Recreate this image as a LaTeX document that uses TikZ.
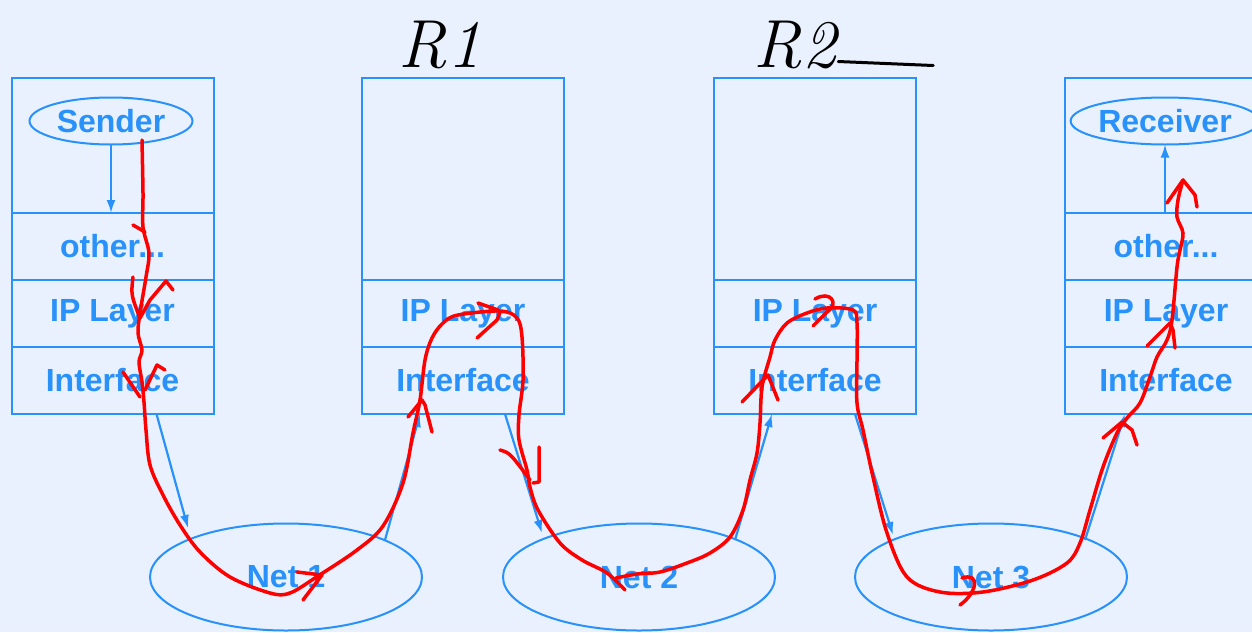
\documentclass[tikz,border=0pt]{standalone}
\usepackage{fontspec}
\setsansfont{Liberation Sans}
\usepackage{tikz}
\usetikzlibrary{shapes,shapes.geometric,calc,arrows,arrows.meta,positioning}
\definecolor{netblue}{RGB}{40,145,250}
\definecolor{bgblue}{RGB}{232,241,253}
\definecolor{penred}{RGB}{255,0,0}

\begin{document}
\begin{tikzpicture}
[x=1pt,y=-1pt,
 every node/.style={draw=netblue,line width=2pt,text=netblue,inner sep=0pt,outer sep=0pt,
	font=\sffamily\bfseries\fontsize{32}{36}\selectfont},
 layer/.style={rectangle,minimum width=202pt,minimum height=67pt},
 app/.style={ellipse,minimum width=163pt,minimum height=47pt},
 net/.style={ellipse,minimum width=272pt,minimum height=107pt},
 hand/.style={draw=none,text=black,font=\fontsize{68}{72}\selectfont\itshape},
 wire/.style={draw=netblue,line width=2.2pt,-{Latex[length=13pt,width=9pt]}},
 pen/.style={draw=penred,line width=3.5pt,line cap=round,line join=round}]
\useasboundingbox (0,0) rectangle (1252,632);
\fill[bgblue] (0,0) rectangle (1252,632);

% sender host
\node[layer,minimum height=135pt] (h1top) at (112.5,145.5) {};
\node[layer,below=0pt of h1top] (h1oth) {other...};
\node[layer,below=0pt of h1oth] (h1ip) {IP Layer};
\node[layer,below=0pt of h1ip] (h1if) {Interface};
\node[app] (send) at (111,121) {Sender};

% routers
\foreach \k/\cx in {1/463,2/815}
{
	\node[layer,minimum height=202pt] (r\k-top) at (\cx,179) {};
	\node[layer,below=0pt of r\k-top] (r\k-ip) {IP Layer};
	\node[layer,below=0pt of r\k-ip] (r\k-if) {Interface};
}

% receiver host
\node[layer,minimum height=135pt] (h2top) at (1166,145.5) {};
\node[layer,below=0pt of h2top] (h2oth) {other...};
\node[layer,below=0pt of h2oth] (h2ip) {IP Layer};
\node[layer,below=0pt of h2ip] (h2if) {Interface};
\node[app] (recv) at (1165,121) {Receiver};

% networks
\foreach \k/\cx in {1/286,2/639,3/991}
	\node[net] (net\k) at (\cx,577) {Net \k};

\node[hand] (lbl1) at (440,45) {R1};
\node[hand] (lbl2) at (795,45) {R2};
\draw[black,line width=3pt,line cap=round] ([xshift=2pt,yshift=6pt]lbl2.base east) -- ++(95,4);

\draw[wire] (send.south) -- (send.south |- h1oth.north);
\draw[wire] (recv.south |- h2oth.north) -- (recv.south);
\draw[wire] ([xshift=145pt]h1if.south west) -- ([xshift=-98pt,yshift=49pt]net1.center);
\draw[wire] ([xshift=99pt,yshift=37pt]net1.center) -- ([xshift=58pt]r1-if.south west);
\draw[wire] ([xshift=143pt]r1-if.south west) -- ([xshift=-97pt,yshift=44pt]net2.center);
\draw[wire] ([xshift=96pt,yshift=37pt]net2.center) -- ([xshift=58pt]r2-if.south west);
\draw[wire] ([xshift=141pt]r2-if.south west) -- ([xshift=-98pt,yshift=42pt]net3.center);
\draw[wire] ([xshift=94pt,yshift=37pt]net3.center) -- ([xshift=60pt]h2if.south west);

% red pen path
\draw[pen] plot[smooth,tension=0.55] coordinates {(142,140) (143,193) (143,227) (149,253) (146,277)
	(140,313) (138,333) (142,350) (139,362) (142,382) (144,402) (146,430) (150,465) (163,495)
	(180,525) (200,552) (230,577) (270,593) (290,593) (318,576) (357,550) (383,526) (403,483)
	(413,433) (420,400) (425,360) (432,338) (443,323) (458,315) (500,311) (517,318) (522,337)
	(523,380) (519,415) (519,440) (527,470) (530,487) (538,510) (560,543) (582,560) (607,573) (625,590)};
\draw[pen] plot[smooth,tension=0.55] coordinates {(616,578) (637,574) (660,572) (687,563) (710,553)
	(730,537) (743,510) (750,480) (757,453) (760,423) (762,387) (770,357) (775,340) (787,323)
	(807,313) (827,308) (853,310) (857,323) (857,360) (857,403) (863,430) (873,477) (887,533)
	(907,577) (940,592) (983,592) (1033,580) (1067,563) (1080,543) (1090,510) (1103,467)
	(1117,433) (1127,418) (1140,403) (1150,377) (1157,357) (1167,340) (1172,320) (1177,267)
	(1180,250) (1183,233) (1177,217) (1178,200) (1183,180)};
% pen arrow ticks
\draw[pen] (133,225) -- (145,232);
\draw[pen] (133,277) .. controls (131,295) .. (140,318);
\draw[pen] (173,290) -- (166,281) -- (150,300) -- (140,318);
\draw[pen] (123,372) -- (140,397);
\draw[pen] (165,370) -- (157,365) -- (145,390);
\draw[pen] (297,572) -- (322,575) -- (303,600);
\draw[pen] (408,417) -- (422,400) -- (425,405) -- (432,432);
\draw[pen] (478,303) -- (498,310);
\draw[pen] (477,338) -- (497,320) -- (500,312);
\draw[pen] (500,450) .. controls (510,453) .. (530,480);
\draw[pen] (539,447) -- (539,482) -- (533,483);
\draw[pen] (742,402) -- (768,375) -- (778,400);
\draw[pen] (815,299) .. controls (830,290) and (840,303) .. (827,312) -- (813,326);
\draw[pen] (962,578) .. controls (980,572) and (978,592) .. (960,605);
\draw[pen] (1103,438) -- (1122,422) -- (1132,430) -- (1137,445);
\draw[pen] (1147,346) -- (1170,323) -- (1173,330) -- (1175,348);
\draw[pen] (1167,203) -- (1183,180) -- (1195,195) -- (1197,207);
\end{tikzpicture}
\end{document}
